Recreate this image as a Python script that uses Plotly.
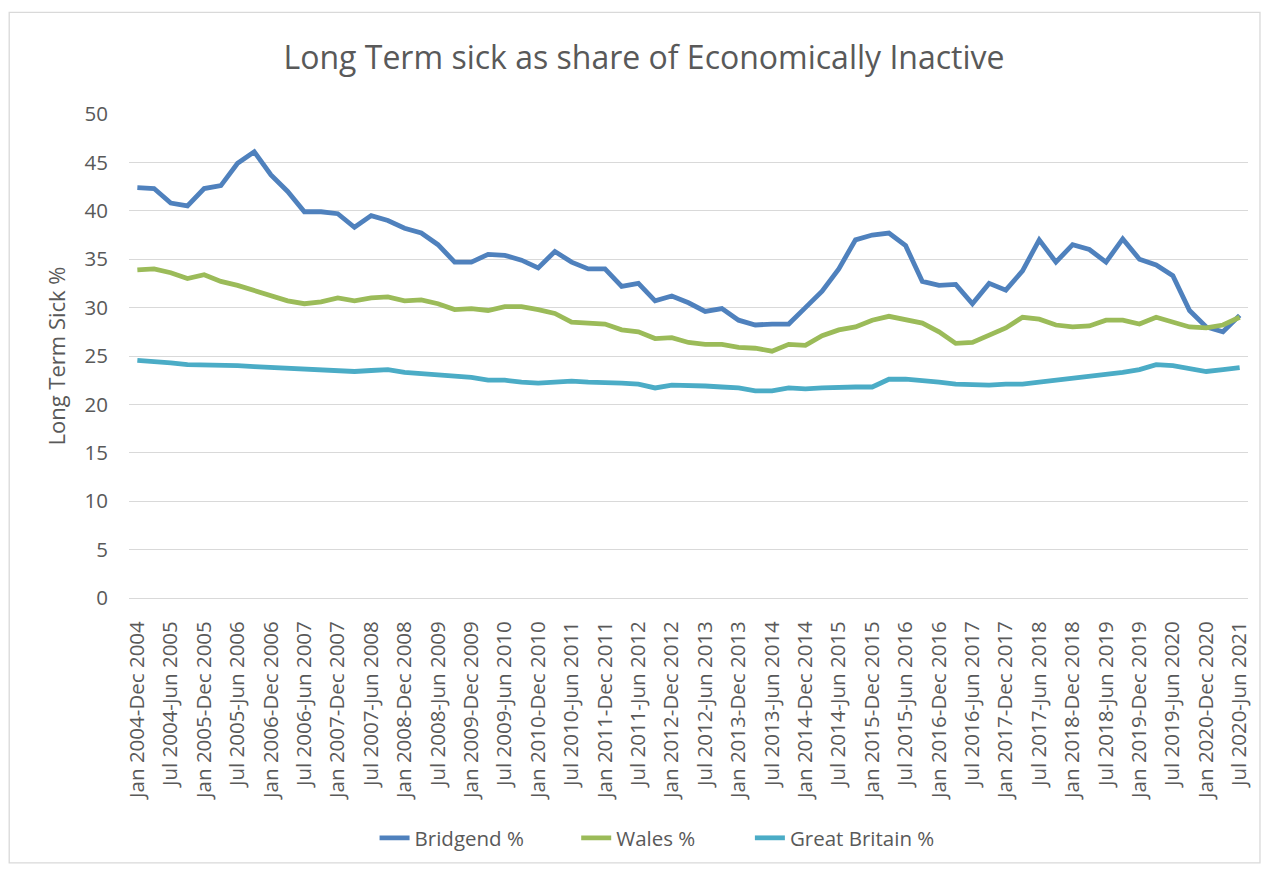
import plotly.graph_objects as go

# rolling 12-month periods, quarterly steps: Jan 2004-Dec 2004 ... Jul 2020-Jun 2021
months = ["Jan", "Apr", "Jul", "Oct"]
ends = ["Dec", "Mar", "Jun", "Sep"]
categories = []
for year in range(2004, 2021):
    for q in range(4):
        end_year = year if q == 0 else year + 1
        categories.append(f"{months[q]} {year}-{ends[q]} {end_year}")
categories = categories[:67]  # last period is Jul 2020-Jun 2021

tick_labels = categories[::2]

bridgend = [42.4, 42.3, 40.8, 40.5, 42.3, 42.6, 44.9, 46.1, 43.7, 42.0,
            39.9, 39.9, 39.7, 38.3, 39.5, 39.0, 38.2, 37.7, 36.5, 34.7,
            34.7, 35.5, 35.4, 34.9, 34.1, 35.8, 34.7, 34.0, 34.0, 32.2,
            32.5, 30.7, 31.2, 30.5, 29.6, 29.9, 28.7, 28.2, 28.3, 28.3,
            30.0, 31.7, 34.0, 37.0, 37.5, 37.7, 36.4, 32.7, 32.3, 32.4,
            30.4, 32.5, 31.8, 33.8, 37.0, 34.7, 36.5, 36.0, 34.7, 37.1,
            35.0, 34.4, 33.3, 29.7, 28.0, 27.5, 29.2]

wales = [33.9, 34.0, 33.6, 33.0, 33.4, 32.7, 32.3, 31.8, 31.2, 30.7,
         30.4, 30.6, 31.0, 30.7, 31.0, 31.1, 30.7, 30.8, 30.4, 29.8,
         29.9, 29.7, 30.1, 30.1, 29.8, 29.4, 28.5, 28.4, 28.3, 27.7,
         27.5, 26.8, 26.9, 26.4, 26.2, 26.2, 25.9, 25.8, 25.5, 26.2,
         26.1, 27.1, 27.7, 28.0, 28.7, 29.1, 28.7, 28.4, 27.5, 26.3,
         26.4, 27.1, 27.9, 29.0, 28.8, 28.2, 28.0, 28.1, 28.7, 28.7,
         28.3, 29.0, 28.5, 28.0, 27.9, 28.2, 29.0]

great_britain = [24.55, 24.45, 24.3, 24.1, 24.1, 24.1, 24.0, 23.9, 23.8, 23.8,
                 23.6, 23.5, 23.4, 23.4, 23.5, 23.6, 23.3, 23.2, 23.0, 22.9,
                 22.8, 22.5, 22.5, 22.3, 22.2, 22.3, 22.4, 22.3, 22.3, 22.2,
                 22.1, 21.7, 22.0, 22.0, 21.9, 21.8, 21.7, 21.4, 21.4, 21.7,
                 21.6, 21.7, 21.8, 21.8, 21.8, 22.6, 22.6, 22.5, 22.3, 22.1,
                 22.0, 22.0, 22.1, 22.1, 22.3, 22.5, 22.7, 22.9, 23.0, 23.3,
                 23.6, 24.1, 24.0, 23.7, 23.4, 23.6, 23.8]

series = [("Bridgend %", bridgend, "#4F81BD"),
          ("Wales %", wales, "#9BBB59"),
          ("Great Britain %", great_britain, "#4BACC6")]

FONT = "Open Sans"
GREY = "#595959"
GRID = "#D9D9D9"

W, H = 1264, 870
L, R, T, B = 129, 14, 114, 270
pw, ph = W - L - R, H - T - B

# one legend per series so the entries sit where Excel put them
legend_names = ["legend", "legend2", "legend3"]
legend_left = [375, 577, 751]

fig = go.Figure()
for (name, vals, col), lg in zip(series, legend_names):
    fig.add_trace(go.Scatter(x=categories, y=vals, name=name, mode="lines",
                             line=dict(color=col, width=4.8), legend=lg))

legend_style = dict(orientation="h", y=(T + ph - 841) / ph, xanchor="left",
                    yanchor="middle", font=dict(size=20.5, color=GREY),
                    bgcolor="rgba(0,0,0,0)")
legends = {}
for lg, px in zip(legend_names, legend_left):
    legends[lg] = dict(legend_style, x=(px - L) / pw)

fig.update_layout(
    width=W, height=H,
    margin=dict(l=L, r=R, t=T, b=B),
    paper_bgcolor="white", plot_bgcolor="white",
    font=dict(family=FONT, color=GREY, size=20),
    title=dict(text="Long Term sick as share of Economically Inactive",
               x=644 / W, y=1 - 58 / H, xanchor="center", yanchor="middle",
               font=dict(size=32, color=GREY)),
    showlegend=True,
    **legends,
)

fig.update_xaxes(type="category", range=[-0.5, len(categories) - 0.5],
                 tickmode="array", tickvals=tick_labels, ticktext=tick_labels,
                 tickangle=-90, showgrid=False, showline=True, linecolor=GRID,
                 linewidth=1, ticks="", ticklabelstandoff=14,
                 tickfont=dict(size=20.5, color=GREY))

fig.update_yaxes(range=[0, 50], dtick=5, showgrid=True, gridcolor=GRID,
                 gridwidth=1.3, zeroline=True, zerolinecolor=GRID,
                 zerolinewidth=1.3, ticks="", ticklabelstandoff=20,
                 tickfont=dict(size=20.5, color=GREY),
                 title=dict(text="Long Term Sick %", standoff=12,
                            font=dict(size=22, color=GREY)))

# light chart-area border
fig.add_shape(type="rect", xref="paper", yref="paper",
              x0=(9 - L) / pw, x1=(1262 - L) / pw,
              y0=(T + ph - 866) / ph, y1=(T + ph - 12) / ph,
              line=dict(color=GRID, width=1.3), fillcolor="rgba(0,0,0,0)",
              layer="below")

fig.write_html("out.html", config={"displayModeBar": False},
               post_script="document.body.style.margin='0';")
